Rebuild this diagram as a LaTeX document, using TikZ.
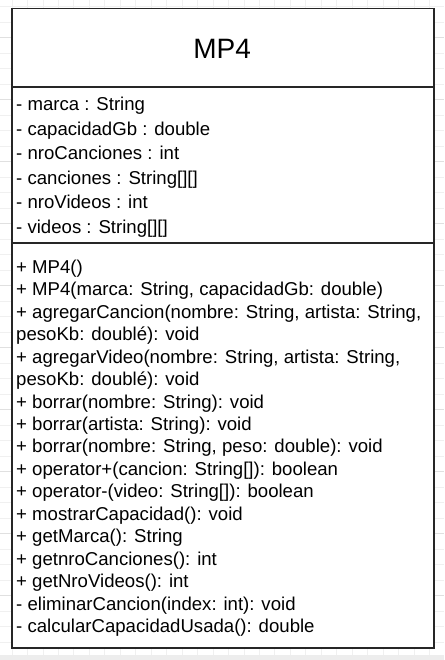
\documentclass[tikz,border=0pt]{standalone}
\usepackage{fontspec}
\setmainfont{Liberation Sans}
\tikzset{
  member/.style={anchor=base west, inner sep=0pt, font=\fontsize{18.6}{22}\selectfont},
  classname/.style={anchor=base, inner sep=0pt, font=\fontsize{28}{32}\selectfont},
  umlline/.style={draw=black!85, line width=1.3pt},
  sheetgrid/.style={black!6, line width=0.8pt},
}
\begin{document}
\begin{tikzpicture}[x=1pt,y=1pt]
\useasboundingbox (0,0) rectangle (444,660);
% spreadsheet grid behind the class
\foreach \k in {0,...,42}
  \draw[sheetgrid] (0,{653.5-15.5*\k}) -- (444,{653.5-15.5*\k});
\foreach \k in {2,6,...,42}
  \draw[black!12, line width=0.8pt] (0,{653.5-15.5*\k}) -- (444,{653.5-15.5*\k});
\foreach \k in {1,...,28}
  \draw[sheetgrid] ({-3.46+15.46*\k},0) -- ({-3.46+15.46*\k},660);
\fill[black!7] (0,0) rectangle (444,5);
% class box
\coordinate (nw) at (12,651.5);
\coordinate (se) at (434,12);
\coordinate (attrtop) at (12,573);
\coordinate (attrtopE) at (434,573);
\coordinate (opstop) at (12,417);
\coordinate (opstopE) at (434,417);
\draw[umlline, fill=white] (nw) rectangle (se);
\draw[umlline] (attrtop) -- (attrtopE);
\draw[umlline] (opstop) -- (opstopE);
\node[classname] (title) at (222.2,601.7) {MP4};
% attributes
\foreach \txt [count=\i] in {
  {- marca : String},
  {- capacidadGb : double},
  {- nroCanciones : int},
  {- canciones : String[][]},
  {- nroVideos : int},
  {- videos : String[][]}}
  \node[member] (attr\i) at (16,{549-24.5*(\i-1)}) {\txt};
% operations
\foreach \txt [count=\i] in {
  {+ MP4()},
  {+ MP4(marca: String, capacidadGb: double)},
  {+ agregarCancion(nombre: String, artista: String,},
  {pesoKb: doublé): void},
  {+ agregarVideo(nombre: String, artista: String,},
  {pesoKb: doublé): void},
  {+ borrar(nombre: String): void},
  {+ borrar(artista: String): void},
  {+ borrar(nombre: String, peso: double): void},
  {+ operator+(cancion: String[]): boolean},
  {+ operator-(video: String[]): boolean},
  {+ mostrarCapacidad(): void},
  {+ getMarca(): String},
  {+ getnroCanciones(): int},
  {+ getNroVideos(): int},
  {- eliminarCancion(index: int): void},
  {- calcularCapacidadUsada(): double}}
  \node[member] (op\i) at (16,{386.7-22.46*(\i-1)}) {\txt};
\end{tikzpicture}
\end{document}
